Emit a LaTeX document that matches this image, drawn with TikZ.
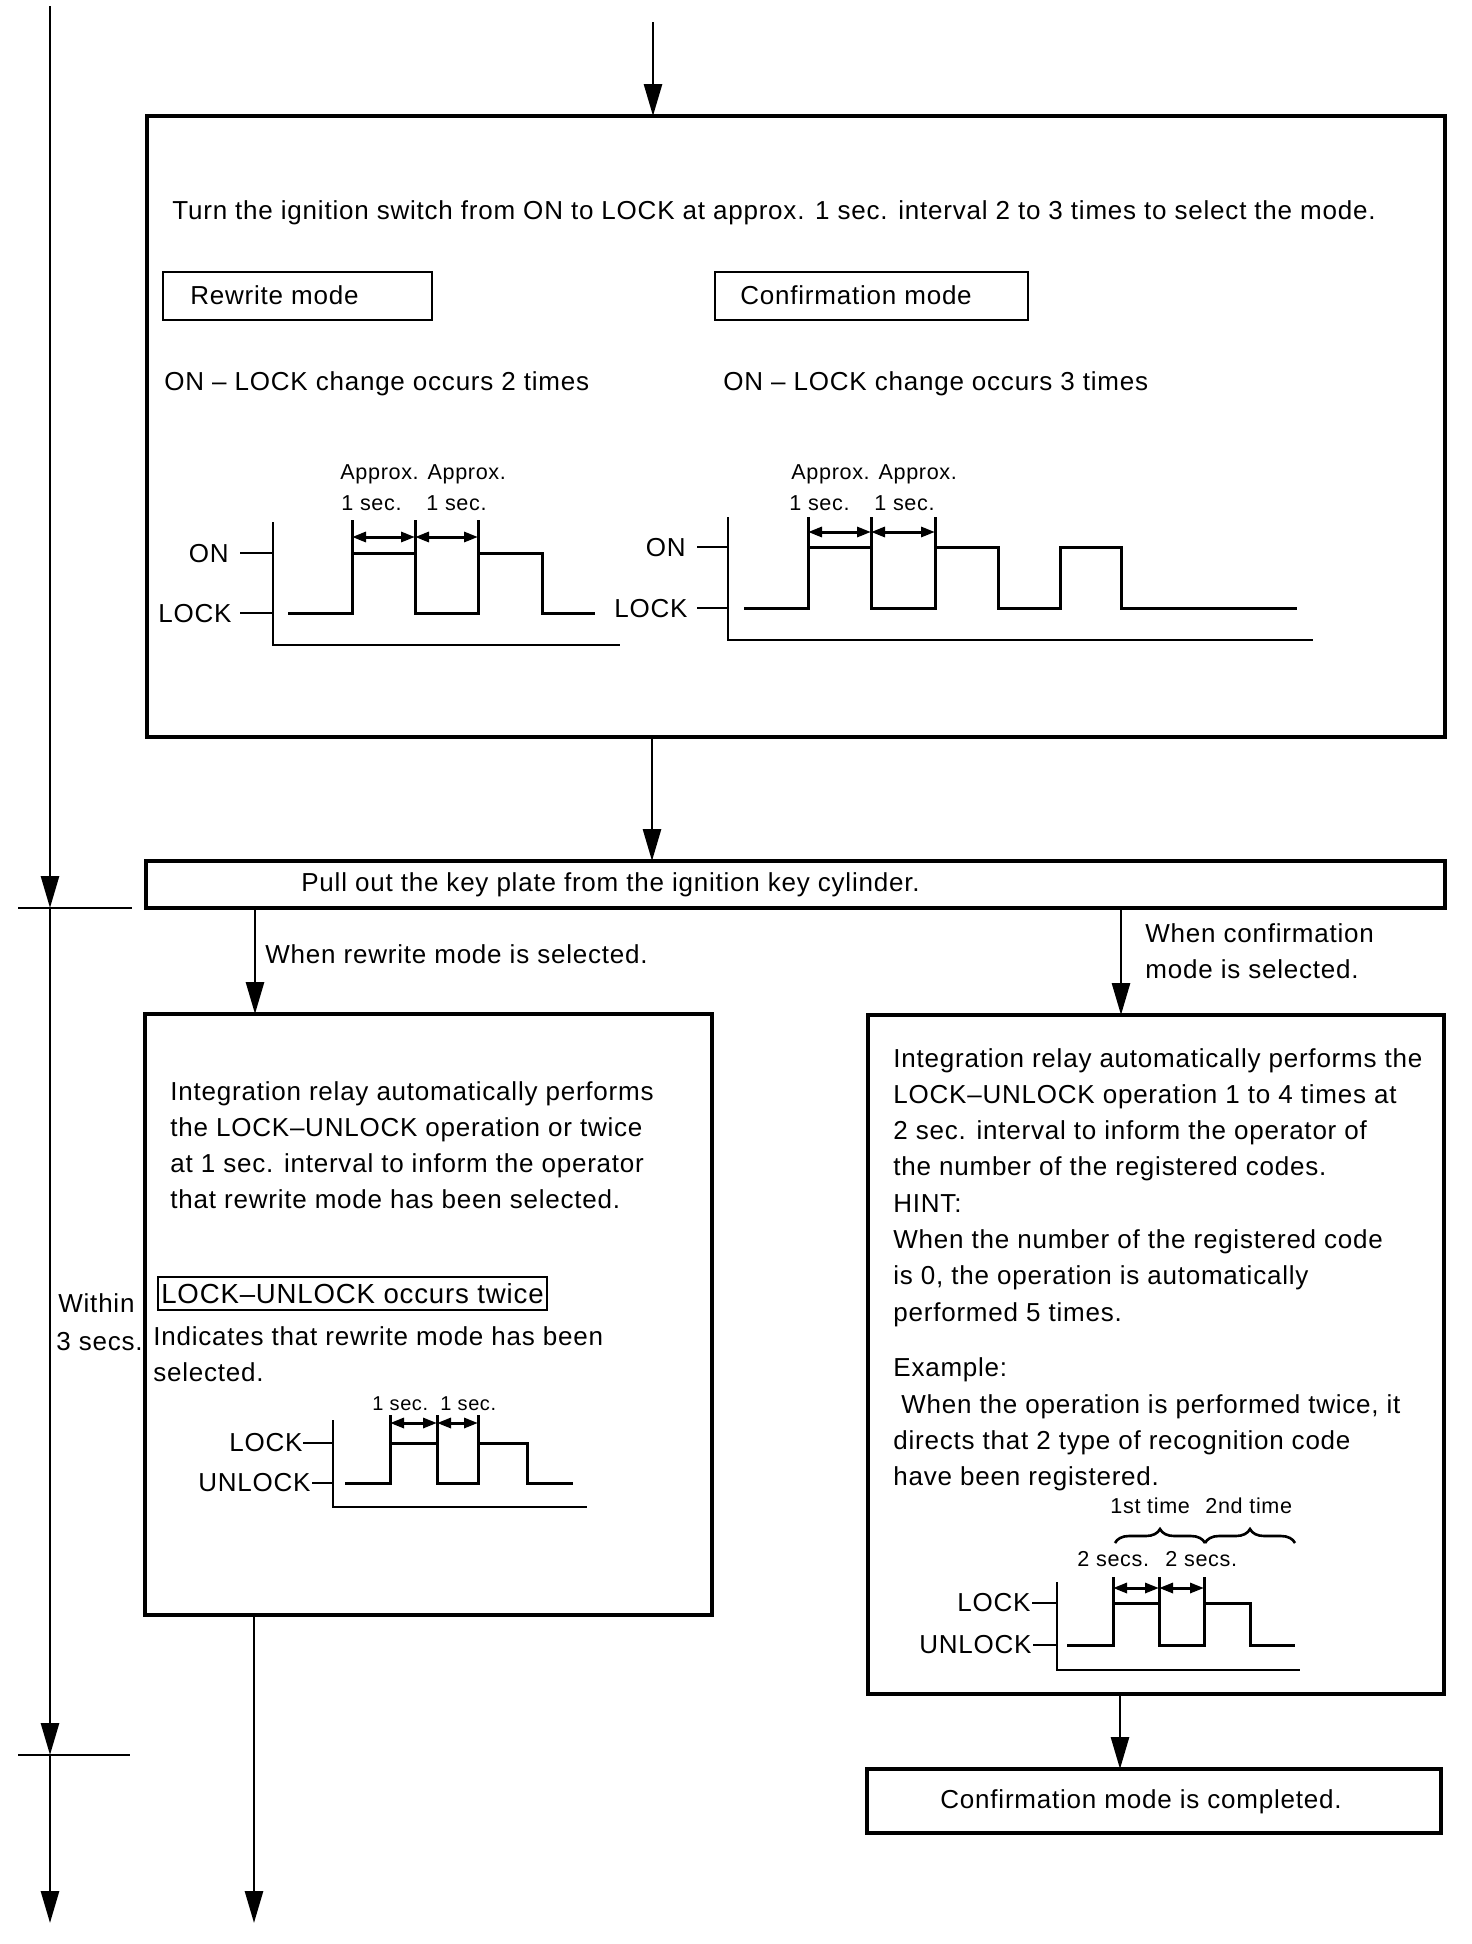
\documentclass[tikz,border=0pt]{standalone}
\usepackage{fontspec}
\setmainfont{Liberation Sans}[LetterSpace=3]
\usetikzlibrary{arrows.meta,decorations.pathreplacing}
\newcommand\mainsz{\fontsize{13}{18}\selectfont}
\newcommand\smsz{\fontsize{10.8}{13}\selectfont}
\newcommand\tinysz{\fontsize{10}{12}\selectfont}
\begin{document}
\begin{tikzpicture}[x=0.5pt,y=-0.5pt,
  box/.style={draw,line width=1.7pt,inner sep=0pt,outer sep=0pt},
  thinbox/.style={draw,line width=1.3pt,inner sep=0pt,outer sep=0pt},
  txt/.style={anchor=base west,inner sep=0pt,font=\mainsz},
  rtxt/.style={anchor=base east,inner sep=0pt,font=\mainsz},
  stxt/.style={anchor=base west,inner sep=0pt,font=\smsz},
  ctxt/.style={inner sep=0pt,font=\mainsz},
  arr/.style={line width=1.4pt,-{Triangle[length=16pt,width=9pt]}},
  tickln/.style={line width=1.4pt},
  sig/.style={line width=1.5pt,line join=miter},
  axisln/.style={line width=1.3pt},
  dim/.style={line width=1.5pt,{Triangle[length=7pt,width=5pt]}-{Triangle[length=7pt,width=5pt]}}
]
\useasboundingbox (0,0) rectangle (1472,1944);

% ---------- boxes ----------
\node[box,minimum width=649pt,minimum height=310.5pt] (top) at (796,426.5) {};
\node[box,minimum width=649.5pt,minimum height=23.5pt] (key) at (795.5,884.5) {};
\node[box,minimum width=283.5pt,minimum height=300.5pt] (rw) at (428.5,1314.5) {};
\node[box,minimum width=288pt,minimum height=339.5pt] (cf) at (1156,1354.5) {};
\node[box,minimum width=287pt,minimum height=32pt] (done) at (1154,1801) {};
\node[thinbox,minimum width=134.5pt,minimum height=24pt] (rwm) at (297.5,296) {};
\node[thinbox,minimum width=156.5pt,minimum height=24pt] (cfm) at (871.5,296) {};
\node[thinbox,minimum width=194.5pt,minimum height=16.5pt,font=\fontsize{13.8}{16}\selectfont] (lub) at (352.5,1293.5) {LOCK--UNLOCK occurs twice};

% ---------- connectors ----------
\coordinate (in) at (653,22);
\draw[arr] (in) -- (in |- top.north);
\coordinate (c1) at (652,0);
\draw[arr] (top.south -| c1) -- (key.north -| c1);
\coordinate (c2) at (255,0);
\draw[arr] (key.south -| c2) -- (rw.north -| c2);
\coordinate (c3) at (1121,0);
\draw[arr] (key.south -| c3) -- (cf.north -| c3);
\coordinate (c4) at (1120,0);
\draw[arr] (cf.south -| c4) -- (done.north -| c4);
\coordinate (out) at (254,1923);
\draw[arr] (rw.south -| out) -- (out);

% ---------- time line ----------
\coordinate (t0) at (50,6);
\coordinate (t1) at (50,908);
\coordinate (t2) at (50,1755);
\coordinate (t3) at (50,1923);
\draw[arr] (t0) -- (t1);
\draw[arr] (t1) -- (t2);
\draw[arr] (t2) -- (t3);
\coordinate (k1a) at (18,908);  \coordinate (k1b) at (132,908);
\coordinate (k2a) at (18,1755); \coordinate (k2b) at (130,1755);
\draw[tickln] (k1a) -- (k1b);
\draw[tickln] (k2a) -- (k2b);
\node[txt] (within) at (58,1312) {Within};
\node[txt] (secs3) at (56,1350) {3 secs.};

% ---------- top box text ----------
\node[txt] (title) at (172,219) {Turn the ignition switch from ON to LOCK at approx. 1 sec. interval 2 to 3 times to select the mode.};
\node[txt] (rwmt) at (190,304) {Rewrite mode};
\node[txt] (cfmt) at (740,304) {Confirmation mode};
\node[txt] (on2) at (164,390) {ON -- LOCK change occurs 2 times};
\node[txt] (on3) at (723,390) {ON -- LOCK change occurs 3 times};

% timing diagram 1
\draw[axisln] (273,522) -- (273,645) -- (620,645);
\draw[tickln] (240,553) -- (273,553);
\draw[tickln] (240,613) -- (273,613);
\node[rtxt] (d1on) at (229,562) {ON};
\node[rtxt] (d1lock) at (232,622) {LOCK};
\draw[sig] (288,613) -| (352,553) -| (415,613) -| (478,553) -| (542,613) -- (595,613);
\draw[sig] (352,553) -- (352,520) (415,553) -- (415,520) (478,553) -- (478,520);
\draw[dim] (352,537) -- (415,537);
\draw[dim] (415,537) -- (478,537);
\node[stxt] (d1a) at (340,479) {Approx. Approx.};
\node[stxt] (d1s1) at (341,510) {1 sec.};
\node[stxt] (d1s2) at (426,510) {1 sec.};

% timing diagram 2
\draw[axisln] (728,517) -- (728,640) -- (1313,640);
\draw[tickln] (697,547) -- (728,547);
\draw[tickln] (697,608) -- (728,608);
\node[rtxt] (d2on) at (686,556) {ON};
\node[rtxt] (d2lock) at (688,617) {LOCK};
\draw[sig] (744,608) -| (808,547) -| (871,608) -| (935,547) -| (998,608) -| (1060,547) -| (1121,608) -- (1297,608);
\draw[sig] (808,547) -- (808,517) (871,547) -- (871,517) (935,547) -- (935,517);
\draw[dim] (808,532) -- (871,532);
\draw[dim] (871,532) -- (935,532);
\node[stxt] (d2a) at (791,479) {Approx. Approx.};
\node[stxt] (d2s1) at (789,510) {1 sec.};
\node[stxt] (d2s2) at (874,510) {1 sec.};

% ---------- key plate ----------
\node[txt] (keyt) at (301,891) {Pull out the key plate from the ignition key cylinder.};
\node[txt] (whenrw) at (265,963) {When rewrite mode is selected.};
\node[txt] (whencf1) at (1145,942) {When confirmation};
\node[txt] (whencf2) at (1145,978) {mode is selected.};

% ---------- rewrite box ----------
\foreach \t [count=\i] in {Integration relay automatically performs,the LOCK--UNLOCK operation or twice,at 1 sec. interval to inform the operator,that rewrite mode has been selected.}
  \node[txt] (rwl\i) at (170,{1100+36*(\i-1)}) {\t};
\node[txt] (ind1) at (153,1345) {Indicates that rewrite mode has been};
\node[txt] (ind2) at (153,1381) {selected.};

% timing diagram 3
\draw[axisln] (333,1420) -- (333,1507) -- (587,1507);
\draw[tickln] (303,1443) -- (333,1443);
\draw[tickln] (312,1483) -- (333,1483);
\node[rtxt] (d3lock) at (303,1451) {LOCK};
\node[rtxt] (d3unlock) at (311,1491) {UNLOCK};
\draw[sig] (345,1483) -| (390,1443) -| (437,1483) -| (478,1443) -| (527,1483) -- (573,1483);
\draw[sig] (390,1443) -- (390,1415) (437,1443) -- (437,1415) (478,1443) -- (478,1415);
\draw[dim] (390,1423) -- (437,1423);
\draw[dim] (437,1423) -- (478,1423);
\node[anchor=base west,inner sep=0pt,font=\tinysz] (d3s1) at (372,1410) {1 sec.};
\node[anchor=base west,inner sep=0pt,font=\tinysz] (d3s2) at (440,1410) {1 sec.};

% ---------- confirmation box ----------
\foreach \t [count=\i] in {Integration relay automatically performs the,LOCK--UNLOCK operation 1 to 4 times at,2 sec. interval to inform the operator of,the number of the registered codes.,HINT:,When the number of the registered code,{is 0, the operation is automatically},performed 5 times.}
  \node[txt] (cfl\i) at (893,{1067+36.3*(\i-1)}) {\t};
\node[txt] (ex0) at (893,1376) {Example:};
\node[txt] (ex1) at (901,1413) {When the operation is performed twice, it};
\node[txt] (ex2) at (893,1449) {directs that 2 type of recognition code};
\node[txt] (ex3) at (893,1485) {have been registered.};

% timing diagram 4
\draw[axisln] (1057,1582) -- (1057,1670) -- (1300,1670);
\draw[tickln] (1032,1603) -- (1057,1603);
\draw[tickln] (1033,1645) -- (1057,1645);
\node[rtxt] (d4lock) at (1031,1611) {LOCK};
\node[rtxt] (d4unlock) at (1032,1653) {UNLOCK};
\draw[sig] (1067,1645) -| (1113,1603) -| (1159,1645) -| (1204,1603) -| (1250,1645) -- (1295,1645);
\draw[sig] (1113,1603) -- (1113,1577) (1159,1603) -- (1159,1577) (1204,1603) -- (1204,1577);
\draw[dim] (1113,1588) -- (1159,1588);
\draw[dim] (1159,1588) -- (1204,1588);
\node[stxt] (d4s1) at (1077,1566) {2 secs.};
\node[stxt] (d4s2) at (1165,1566) {2 secs.};
\draw[line width=1.3pt,decorate,decoration={brace,amplitude=7pt}] (1115,1543) -- (1205,1543);
\draw[line width=1.3pt,decorate,decoration={brace,amplitude=7pt}] (1205,1543) -- (1295,1543);
\node[stxt] (d4t1) at (1110,1513) {1st time};
\node[stxt] (d4t2) at (1205,1513) {2nd time};

% ---------- completed ----------
\node[ctxt] (donet) at (1141,1802) {Confirmation mode is completed.};
\end{tikzpicture}
\end{document}
